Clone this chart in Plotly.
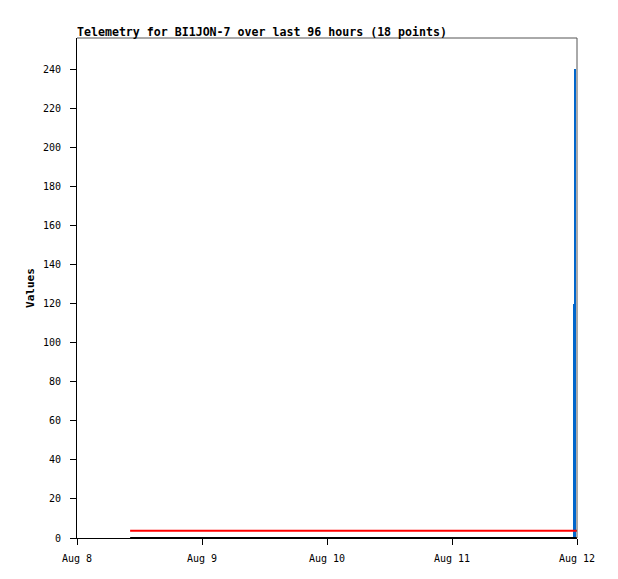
import plotly.graph_objects as go

# Data
line_times = ["2024-08-08 10:12", "2024-08-12 00:00"]
zero_values = [0, 0]
red_values = [3.7, 3.7]
spike_times = ["2024-08-11 23:25", "2024-08-11 23:37"]
spike_values = [120, 240]
tick_dates = ["2024-08-08", "2024-08-09", "2024-08-10", "2024-08-11", "2024-08-12"]
tick_labels = ["Aug 8", "Aug 9", "Aug 10", "Aug 11", "Aug 12"]
y_ticks = list(range(0, 241, 20))

fig = go.Figure()
fig.add_trace(go.Bar(x=spike_times, y=spike_values, marker_color="#0066CC",
                     marker_line_width=0, width=[1.4e6, 1.4e6], showlegend=False))
fig.add_trace(go.Scatter(x=line_times, y=red_values, mode="lines",
                         line=dict(color="#FF0000", width=2), showlegend=False))
fig.add_trace(go.Scatter(x=line_times, y=zero_values, mode="lines",
                         line=dict(color="#000000", width=2), showlegend=False))

font = dict(family="DejaVu Sans Mono", size=10, color="black")
fig.update_layout(
    width=618, height=579,
    margin=dict(l=69, r=49, t=30, b=49),
    paper_bgcolor="white", plot_bgcolor="white",
    font=font,
    title=dict(text="<b>Telemetry for BI1JON-7 over last 96 hours (18 points)</b>",
               x=0, xref="paper", xanchor="left", y=1, yref="paper", yanchor="bottom",
               pad=dict(b=2), font=dict(family="DejaVu Sans Mono", size=11.6, color="black")),
    xaxis=dict(range=["2024-08-08", "2024-08-12"], tickvals=tick_dates, ticktext=tick_labels,
               showgrid=False, zeroline=False, showline=True, linecolor="black", linewidth=1,
               ticks="outside", ticklen=6, tickcolor="black", tickfont=font,
               ticklabelstandoff=5),
    yaxis=dict(range=[0, 256], tickvals=y_ticks, showgrid=False, zeroline=False,
               showline=True, linecolor="black", linewidth=1,
               ticks="outside", ticklen=6, tickcolor="black", tickfont=font,
               ticklabelstandoff=7,
               title=dict(text="<b>Values</b>", standoff=6,
                          font=dict(family="DejaVu Sans Mono", size=11, color="black"))),
    bargap=0,
    shapes=[
        dict(type="line", xref="paper", yref="paper", x0=0, x1=1, y0=1, y1=1,
             line=dict(color="#555555", width=1)),
        dict(type="line", xref="paper", yref="paper", x0=1, x1=1, y0=0, y1=1,
             line=dict(color="#555555", width=1)),
    ],
)
fig.write_html("out.html")
